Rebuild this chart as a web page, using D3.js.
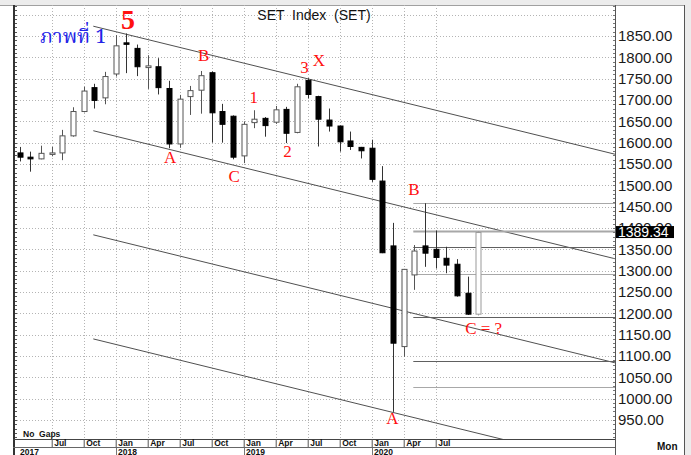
<!DOCTYPE html>
<html><head><meta charset="utf-8">
<script src="https://cdn.jsdelivr.net/npm/d3@7"></script>
<style>
html,body{margin:0;padding:0;background:#ececec;}
svg{display:block;}
</style></head><body>
<svg id="c" width="691" height="455"></svg>
<script>
// ---- data (monthly SET Index candles) ----
const months = ["2017-04","2017-05","2017-06","2017-07","2017-08","2017-09","2017-10","2017-11","2017-12",
  "2018-01","2018-02","2018-03","2018-04","2018-05","2018-06","2018-07","2018-08","2018-09","2018-10","2018-11","2018-12",
  "2019-01","2019-02","2019-03","2019-04","2019-05","2019-06","2019-07","2019-08","2019-09","2019-10","2019-11","2019-12",
  "2020-01","2020-02","2020-03","2020-04","2020-05","2020-06","2020-07","2020-08","2020-09","2020-10","2020-11"];
const openV  = [1576,1566,1562,1575,1576,1616,1673,1729,1705, 1761,1834,1821,1776,1778,1727,1597,1708,1723,1764,1673,1662,
  1569,1647,1657,1648,1678,1624,1746,1708,1653,1639,1604,1589, 1587,1510,1358,1122,1290,1358,1350,1329,1315,1247,1198];
const highV  = [1590,1579,1593,1590,1630,1683,1731,1738,1766, 1852,1856,1830,1805,1798,1745,1712,1733,1768,1767,1691,1664,
  1650,1676,1660,1686,1684,1738,1751,1710,1680,1640,1626,1590, 1607,1545,1412,1304,1360,1458,1394,1356,1327,1286,1392];
const lowV   = [1556,1532,1561,1568,1559,1614,1671,1680,1690, 1755,1763,1756,1726,1713,1587,1588,1665,1668,1600,1600,1561,
  1552,1634,1614,1644,1599,1622,1704,1591,1626,1579,1583,1563, 1508,1341,969,1098,1255,1309,1305,1294,1239,1196,1195];
const closeV = [1566,1562,1575,1576,1616,1673,1721,1699,1755, 1827,1831,1778,1780,1729,1597,1702,1722,1757,1670,1643,1566,
  1643,1655,1640,1677,1622,1731,1713,1655,1639,1602,1591,1581, 1514,1342,1130,1303,1346,1341,1331,1313,1241,1198,1389.34];
const lastPrice = 1389.34;

const yTickValues = [950,1000,1050,1100,1150,1200,1250,1300,1350,1400,1450,1500,1550,1600,1650,1700,1750,1800,1850];
const yGridValues = [950,1000,1050,1100,1150,1200,1250,1300,1350,1400,1450,1500,1550,1600,1650,1700,1750,1800,1850,1900];
const xTickMonths = ["2017-07","2017-10","2018-01","2018-04","2018-07","2018-10","2019-01","2019-04","2019-07","2019-10","2020-01","2020-04","2020-07"];
const xTickLabels = ["Jul","Oct","Jan","Apr","Jul","Oct","Jan","Apr","Jul","Oct","Jan","Apr","Jul"];
const yearMonths = ["2017-04","2018-01","2019-01","2020-01"];
const yearLabels = ["2017","2018","2019","2020"];

// trend channel: month offsets (months since Jan 2017) and values at both ends
const channelMonths = [9.9, 58.8];
const channelLines = [[1873,1573],[1628,1328],[1384,1084],[1140,840]];
// horizontal levels drawn from mid-2020 to the right edge
const levelStartMonth = 39.9;
const levelValues = [1458,1393,1355,1292,1191,1088,1027];
const levelLight  = [true,true,false,true,false,false,true];

// annotations in data coordinates (month offset, value)
const annText  = ["A","B","C","1","2","3","X","B","A","C = ?"];
const annMonth = [17.1,20.25,23.1,24.95,28.1,29.7,31.05,39.95,37.95,46.5];
const annValue = [1552,1791,1508,1693,1566,1764,1780,1477,941,1152];

const titleText = "SET  Index  (SET)";
const thaiTitle = "ภาพที่ 1";
const waveText = "5";

// ---- drawing ----
const mi = s => { const [y,m] = s.split("-").map(Number); return (y-2017)*12 + (m-1); };
const svg = d3.select("#c");
const L = 14, R = 615, T = 5, B = 439;

const x = d3.scaleLinear().domain([2.466, 58.81]).range([L, R]);
const y = d3.scaleLinear().domain([905.4, 1922.7]).range([B, T]);

// background panel
svg.append("rect").attr("x",0).attr("y",5).attr("width",685).attr("height",450).attr("fill","#fff");
svg.append("line").attr("x1",0).attr("x2",685).attr("y1",5.5).attr("y2",5.5).attr("stroke","#a0a0a0");
svg.append("line").attr("x1",684.5).attr("x2",684.5).attr("y1",5).attr("y2",455).attr("stroke","#555");

svg.append("defs").append("clipPath").attr("id","plot").append("rect")
  .attr("x",L).attr("y",T).attr("width",R-L).attr("height",B-T);

// grid
const grid = svg.append("g");
grid.selectAll("line.h").data(yGridValues).join("line")
  .attr("x1",L).attr("x2",R).attr("y1",d=>Math.round(y(d))+0.5).attr("y2",d=>Math.round(y(d))+0.5)
  .attr("stroke","#b4b4b4").attr("stroke-dasharray","1,2");
grid.selectAll("line.v").data(xTickMonths).join("line")
  .attr("x1",d=>Math.round(x(mi(d)))+0.5).attr("x2",d=>Math.round(x(mi(d)))+0.5).attr("y1",T).attr("y2",B)
  .attr("stroke","#b4b4b4").attr("stroke-dasharray","1,2");

const plot = svg.append("g").attr("clip-path","url(#plot)");

// channel lines
plot.selectAll("line.ch").data(channelLines).join("line")
  .attr("x1",x(channelMonths[0])).attr("x2",x(channelMonths[1]))
  .attr("y1",d=>y(d[0])).attr("y2",d=>y(d[1]))
  .attr("stroke","#505050").attr("stroke-width",1);

// level lines
plot.selectAll("line.lv").data(levelValues).join("line")
  .attr("x1",x(levelStartMonth)).attr("x2",R)
  .attr("y1",d=>Math.round(y(d))+0.5).attr("y2",d=>Math.round(y(d))+0.5)
  .attr("stroke",(d,i)=>levelLight[i]?"#a8a8a8":"#606060")
  .attr("stroke-width",(d,i)=>i===1?2:1.2);

// candles
const candles = months.map((m,i)=>({m:mi(m),o:openV[i],h:highV[i],l:lowV[i],c:closeV[i],last:i===months.length-1}));
const cg = plot.selectAll("g.cd").data(candles).join("g");
cg.append("line")
  .attr("x1",d=>Math.round(x(d.m))+0.5).attr("x2",d=>Math.round(x(d.m))+0.5)
  .attr("y1",d=>y(d.h)).attr("y2",d=>y(d.l))
  .attr("stroke",d=>d.c>=d.o?(d.last?"#999":"#555"):"#333").attr("stroke-width",1);
cg.append("rect")
  .attr("x",d=>Math.round(x(d.m))-2)
  .attr("width",5)
  .attr("y",d=>y(Math.max(d.o,d.c)))
  .attr("height",d=>Math.max(1.5, y(Math.min(d.o,d.c))-y(Math.max(d.o,d.c))))
  .attr("fill",d=>d.c>=d.o?"#fff":"#000")
  .attr("stroke",d=>d.c>=d.o?(d.last?"#999":"#555"):"#000").attr("stroke-width",1);

// annotations
svg.append("g").selectAll("text").data(annText).join("text")
  .attr("x",(d,i)=>x(annMonth[i])).attr("y",(d,i)=>y(annValue[i]))
  .attr("text-anchor","middle")
  .attr("font-family","'Liberation Serif','Times New Roman',serif")
  .attr("font-size",17).attr("fill","#ff1010").text(d=>d);

svg.append("text").attr("x",x(13.15)).attr("y",y(1866))
  .attr("text-anchor","middle").attr("font-family","'Liberation Serif','Times New Roman',serif")
  .attr("font-weight","bold").attr("font-size",28).attr("fill","#ff1010").text(waveText);

svg.append("text").attr("x",x(4.9)).attr("y",y(1834))
  .attr("font-family","'Noto Serif Thai','Noto Sans Thai','Tlwg Typo','Norasi','Garuda','Loma',serif")
  .attr("font-size",20).attr("fill","#2323e6").text(thaiTitle);

// title
svg.append("text").attr("x",314).attr("y",20).attr("text-anchor","middle")
  .attr("font-family","'Liberation Sans',Arial,sans-serif").attr("font-size",14)
  .attr("fill","#111").style("white-space","pre").text(titleText);

// left border with minor ticks
svg.append("line").attr("x1",14).attr("x2",14).attr("y1",T).attr("y2",455).attr("stroke","#333").attr("stroke-width",2);
const minor = d3.range(910, 1921, 10);
svg.append("g").selectAll("line").data(minor).join("line")
  .attr("x1",15).attr("x2",17).attr("y1",d=>Math.round(y(d))+0.5).attr("y2",d=>Math.round(y(d))+0.5)
  .attr("stroke","#555");

// right axis
svg.append("line").attr("x1",R+0.5).attr("x2",R+0.5).attr("y1",T).attr("y2",455).attr("stroke","#555");
svg.append("g").selectAll("line").data(minor).join("line")
  .attr("x1",R-2).attr("x2",R).attr("y1",d=>Math.round(y(d))+0.5).attr("y2",d=>Math.round(y(d))+0.5)
  .attr("stroke","#777");
const yAxis = d3.axisRight(y).tickValues(yTickValues).tickFormat(d3.format(".2f")).tickSize(0).tickPadding(3);
const ya = svg.append("g").attr("transform",`translate(${R},0)`).call(yAxis);
ya.select(".domain").remove();
ya.selectAll("text").attr("font-family","'Liberation Sans',Arial,sans-serif").attr("font-size",15).attr("fill","#1a1a1a");

// last price box
svg.append("rect").attr("x",R+1).attr("y",y(lastPrice)-6.5).attr("width",58).attr("height",12).attr("fill","#000");
svg.append("text").attr("x",R+3).attr("y",y(lastPrice)).attr("dy","0.35em")
  .attr("font-family","'Liberation Sans',Arial,sans-serif").attr("font-size",14).attr("fill","#fff").text(lastPrice.toFixed(2));

// x axis strip
svg.append("line").attr("x1",13).attr("x2",R).attr("y1",B+0.5).attr("y2",B+0.5).attr("stroke","#444");
svg.append("line").attr("x1",13).attr("x2",R).attr("y1",447.5).attr("y2",447.5).attr("stroke","#666");
const xAxis = d3.axisBottom(x).tickValues(xTickMonths.map(mi)).tickFormat((d,i)=>xTickLabels[i]).tickSize(8).tickPadding(0);
const xa = svg.append("g").attr("transform",`translate(0,${B})`).call(xAxis);
xa.select(".domain").remove();
xa.selectAll("line").attr("stroke","#555");
xa.selectAll("text").attr("text-anchor","start").attr("x",2).attr("y",1)
  .attr("font-family","'Liberation Sans',Arial,sans-serif").attr("font-size",8.5).attr("font-weight","bold").attr("fill","#111");

svg.append("g").selectAll("text").data(yearLabels).join("text")
  .attr("x",(d,i)=> i===0 ? 20 : Math.round(x(mi(yearMonths[i])))+2).attr("y",454.5)
  .attr("font-family","'Liberation Sans',Arial,sans-serif").attr("font-size",8.5).attr("font-weight","bold").attr("fill","#111")
  .text(d=>d);
svg.append("g").selectAll("line").data(yearMonths.slice(1)).join("line")
  .attr("x1",d=>Math.round(x(mi(d)))+0.5).attr("x2",d=>Math.round(x(mi(d)))+0.5).attr("y1",448).attr("y2",455).attr("stroke","#777");

svg.append("text").attr("x",23).attr("y",436.5)
  .attr("font-family","'Liberation Sans',Arial,sans-serif").attr("font-size",8.5).attr("font-weight","bold").attr("fill","#111").text("No  Gaps").style("white-space","pre");
svg.append("text").attr("x",657).attr("y",450)
  .attr("font-family","'Liberation Sans',Arial,sans-serif").attr("font-size",10).attr("font-weight","bold").attr("fill","#111").text("Mon");
</script>
</body></html>
